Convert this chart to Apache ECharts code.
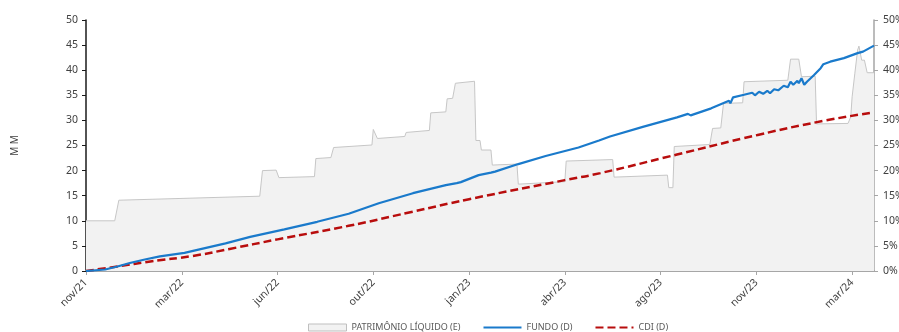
<!DOCTYPE html>
<html>
<head>
<meta charset="utf-8">
<script src="https://cdn.jsdelivr.net/npm/echarts@6/dist/echarts.min.js"></script>
<style>
html,body{margin:0;padding:0;background:#fff;}
#chart{width:899px;height:332px;}
</style>
</head>
<body>
<div id="chart"></div>
<script>
// X axis: trading-day index; a tick label every 70 days
const xTickLabels = ['nov/21','mar/22','jun/22','out/22','jan/23','abr/23','ago/23','nov/23','mar/24'];
const xTickStep = 70;
const xLastDay = 576;

// Patrimônio líquido (R$ MM) - left axis
const plDays   = [0,21,24,127,129,139,141,167,168,179,181,209,210,211,213,233,234,251,252,263,264,268,270,284,285,288,289,296,297,315,316,350,351,385,386,425,426,429,430,456,458,464,466,480,481,513,515,521,523,533,534,557,559,560,562,564,565,567,569,571,576];
const plValues = [10.0,10.0,14.1,14.9,20.0,20.1,18.6,18.8,22.4,22.6,24.6,25.1,28.2,28.2,26.4,26.8,27.6,28.0,31.5,31.7,34.3,34.4,37.4,37.8,26.0,26.0,24.1,24.1,21.1,21.3,17.3,17.8,21.9,22.2,18.7,19.1,16.6,16.6,24.8,25.2,28.4,28.5,33.4,33.5,37.7,38.0,42.2,42.2,38.7,38.8,29.3,29.4,30.7,34.7,39.4,44.0,44.8,42.0,42.0,39.5,39.5];

// Fundo (% acumulado) - right axis
const fundoDays   = [0,14,23,32,43,54,72,83,102,120,145,169,192,214,239,263,271,272,274,287,296,297,299,316,336,360,375,383,407,432,440,442,457,470,471,473,481,487,489,492,495,498,500,503,506,510,513,515,517,520,521,523,525,527,532,537,539,544,554,564,568,576];
const fundoValues = [0.0,0.3,0.9,1.6,2.3,2.9,3.6,4.3,5.5,6.8,8.3,9.8,11.4,13.5,15.5,17.1,17.5,17.2,17.7,19.1,19.6,19.3,19.8,21.3,22.9,24.6,26.0,26.8,28.7,30.6,31.3,31.0,32.4,33.9,33.4,34.6,35.1,35.5,35.0,35.7,35.3,35.9,35.4,36.2,36.0,36.9,36.6,37.7,37.1,37.9,37.4,38.4,37.1,37.7,39.0,40.4,41.2,41.7,42.4,43.4,43.7,44.9];

// CDI (% acumulado) - right axis
const cdiDays   = [0,23,47,78,105,140,192,237,280,350,376,432,491,539,576];
const cdiValues = [0.0,0.9,1.9,3.0,4.4,6.3,9.0,11.7,14.3,18.1,19.5,23.2,27.1,29.9,31.6];

const zip = (a, b) => a.map((d, i) => [d, b[i]]);
const tickDays = xTickLabels.map((_, i) => i * xTickStep);
const FONT = '"Noto Sans", "DejaVu Sans", sans-serif';
const txt = '#404040';

const chart = echarts.init(document.getElementById('chart'), null, {renderer: 'canvas'});
chart.setOption({
  animation: false,
  textStyle: {fontFamily: FONT},
  grid: {left: 86, right: 25, top: 20, bottom: 61, containLabel: false, outerBoundsMode: 'none'},
  legend: {
    left: 303, top: 318,
    itemWidth: 38, itemHeight: 7, itemGap: 22,
    textStyle: {fontSize: 9, color: '#595959', fontFamily: FONT},
    data: [
      {name: 'PATRIMÔNIO LÍQUIDO (E)', icon: 'rect', itemStyle: {color: '#f2f2f2', borderColor: '#bfbfbf', borderWidth: 1}},
      {name: 'FUNDO (D)', itemStyle: {opacity: 0}},
      {name: 'CDI (D)', itemStyle: {opacity: 0}}
    ]
  },
  xAxis: {
    type: 'value', min: 0, max: xLastDay, interval: xTickStep,
    splitLine: {show: false},
    axisLine: {show: true, lineStyle: {color: '#a6a6a6', width: 2}},
    axisTick: {show: true, length: 4, customValues: tickDays, lineStyle: {color: '#a6a6a6', width: 1}},
    axisLabel: {
      customValues: tickDays, rotate: 45, margin: 10,
      color: txt, fontSize: 10.5, fontFamily: FONT,
      formatter: v => xTickLabels[Math.round(v / xTickStep)] || ''
    }
  },
  yAxis: [
    {
      type: 'value', min: 0, max: 50, interval: 5, position: 'left',
      name: 'M M', nameLocation: 'middle', nameRotate: 90, nameGap: 66,
      nameTextStyle: {color: '#404040', fontSize: 10, fontFamily: FONT},
      splitLine: {show: false},
      axisLine: {show: true, lineStyle: {color: '#1a1a1a', width: 1.5}},
      axisTick: {show: true, length: 4, lineStyle: {color: '#1a1a1a'}},
      axisLabel: {color: txt, fontSize: 10.5, margin: 8, fontFamily: FONT}
    },
    {
      type: 'value', min: 0, max: 50, interval: 5, position: 'right',
      splitLine: {show: false},
      axisLine: {show: true, lineStyle: {color: '#a6a6a6', width: 1.5}},
      axisTick: {show: true, length: 4, lineStyle: {color: '#a6a6a6'}},
      axisLabel: {color: txt, fontSize: 10.5, margin: 9, fontFamily: FONT, formatter: '{value}%'}
    }
  ],
  series: [
    {
      name: 'PATRIMÔNIO LÍQUIDO (E)', type: 'line', yAxisIndex: 0,
      data: zip(plDays, plValues), symbol: 'none', smooth: false,
      lineStyle: {color: '#c6c6c6', width: 1},
      itemStyle: {color: '#f2f2f2'},
      areaStyle: {color: '#f2f2f2', opacity: 1},
      z: 1
    },
    {
      name: 'CDI (D)', type: 'line', yAxisIndex: 1,
      data: zip(cdiDays, cdiValues), symbol: 'none', smooth: true,
      lineStyle: {color: '#b80d0d', width: 2.5, type: [8, 4]},
      itemStyle: {color: '#b80d0d'},
      z: 3
    },
    {
      name: 'FUNDO (D)', type: 'line', yAxisIndex: 1,
      data: zip(fundoDays, fundoValues), symbol: 'none', smooth: false,
      lineStyle: {color: '#1a7acb', width: 2.2},
      itemStyle: {color: '#1a7acb'},
      z: 4
    }
  ]
});
</script>
</body>
</html>
